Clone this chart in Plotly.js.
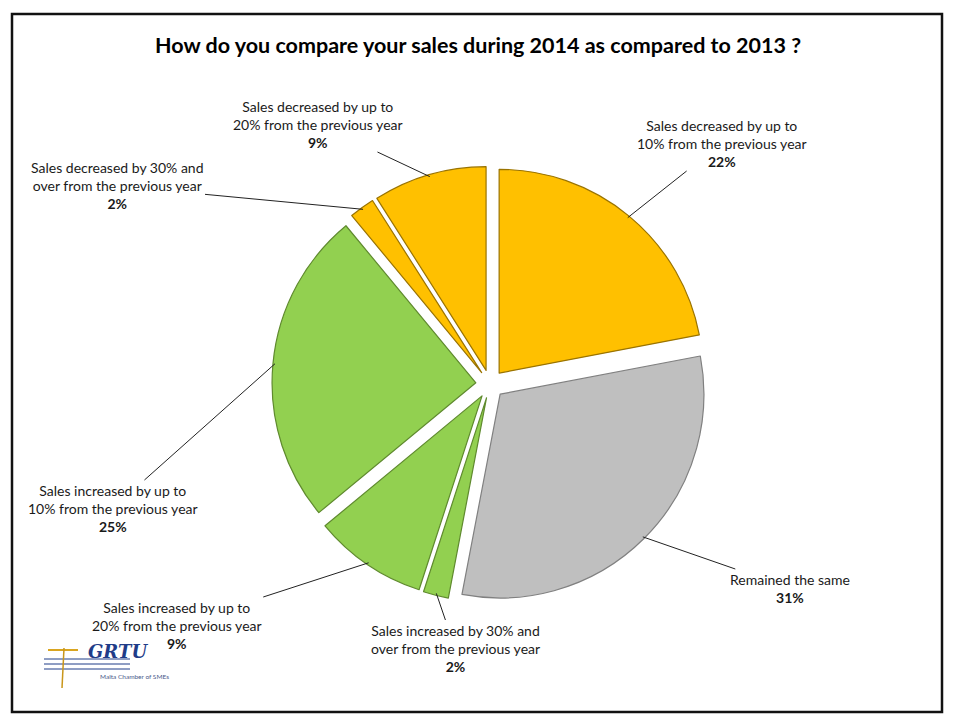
<!DOCTYPE html>
<html>
<head>
<meta charset="utf-8">
<script src="https://cdn.plot.ly/plotly-3.0.1.min.js"></script>
<style>html,body{margin:0;padding:0;background:#fff;}#chart{width:959px;height:722px;}</style>
</head>
<body>
<div id="chart"></div>
<script>
// ---- data ----
var categories = [
  "Sales decreased by up to<br>10% from the previous year",
  "Remained the same",
  "Sales increased by 30% and<br>over from the previous year",
  "Sales increased by up to<br>20% from the previous year",
  "Sales increased by up to<br>10% from the previous year",
  "Sales decreased by 30% and<br>over from the previous year",
  "Sales decreased by up to<br>20% from the previous year"
];
var shares = [22, 31, 2, 9, 25, 2, 9];
var sliceColors = ["#FFC000", "#BFBFBF", "#92D050", "#92D050", "#92D050", "#FFC000", "#FFC000"];
var edgeColors = ["#9A7300", "#808080", "#5F8A2E", "#5F8A2E", "#5F8A2E", "#9A7300", "#9A7300"];
var titleText = "<b>How do you compare your sales during 2014 as compared to 2013 ?</b>";

// ---- layout constants ----
var W = 959, H = 722;
var pull = 0.07;
var dom = {x: [0.282, 0.740], y: [0.166, 0.770]};
// label text centres (pixels)
var labelPos = [[722, 143], [790, 588], [455, 648], [177, 625], [113, 508], [117, 186], [318, 124]];

// pie geometry (as Plotly computes it)
var boxW = W * (dom.x[1] - dom.x[0]), boxH = H * (dom.y[1] - dom.y[0]);
var r = Math.min(boxW, boxH) / (2 + 2 * pull);
var cx = W * (dom.x[0] + dom.x[1]) / 2;
var cy = H * (1 - (dom.y[0] + dom.y[1]) / 2);
var total = shares.reduce(function (a, b) { return a + b; }, 0);

var annotations = [];
var cum = 0;
for (var i = 0; i < shares.length; i++) {
  var mid = (cum + shares[i] / 2) / total * 2 * Math.PI;
  cum += shares[i];
  var rr = r * (1 + pull) - 2;
  var hx = cx + rr * Math.sin(mid);
  var hy = cy - rr * Math.cos(mid);
  annotations.push({
    xref: "paper", yref: "paper",
    x: hx / W, y: 1 - hy / H,
    ax: labelPos[i][0] - hx, ay: labelPos[i][1] - hy,
    axref: "pixel", ayref: "pixel",
    text: categories[i] + "<br><b>" + shares[i] + "%</b>",
    showarrow: true, arrowhead: 0, arrowwidth: 1, arrowcolor: "#222",
    standoff: 0, startstandoff: 0,
    font: {family: "Lato, 'Open Sans', sans-serif", size: 14, color: "#1a1a1a"},
    align: "center"
  });
}
// logo
annotations.push({
  xref: "paper", yref: "paper", x: 86 / W, y: 1 - 664 / H,
  text: "<b><i>GRTU</i></b>", showarrow: false,
  font: {family: "'DejaVu Serif', serif", size: 18, color: "#1F3C88"}
});
annotations.push({
  xref: "paper", yref: "paper", x: 98 / W, y: 1 - 682 / H,
  text: "Malta Chamber of SMEs", showarrow: false,
  font: {family: "Lato, sans-serif", size: 6.5, color: "#4a5a8a"}
});

var trace = {
  type: "pie",
  labels: categories,
  values: shares,
  sort: false,
  direction: "clockwise",
  rotation: 0,
  pull: shares.map(function () { return pull; }),
  marker: {colors: sliceColors, line: {color: edgeColors, width: 1.2}},
  textinfo: "none",
  hoverinfo: "label+percent",
  showlegend: false,
  domain: dom
};

var layout = {
  width: W, height: H,
  margin: {l: 0, r: 0, t: 0, b: 0},
  paper_bgcolor: "#ffffff",
  showlegend: false,
  title: {
    text: titleText,
    x: 0.4985, xanchor: "center",
    y: 1 - 45 / H, yanchor: "middle",
    font: {family: "Lato, 'Open Sans', sans-serif", size: 21.5, color: "#000"}
  },
  annotations: annotations,
  shapes: [
    {type: "rect", xref: "paper", yref: "paper",
     x0: 12 / W, x1: 942 / W, y0: 1 - 712 / H, y1: 1 - 14 / H,
     line: {color: "#111", width: 2.5}, fillcolor: "rgba(0,0,0,0)"},
    // logo stripes
    {type: "line", xref: "paper", yref: "paper", layer: "below", x0: 44 / W, x1: 130 / W, y0: 1 - 659 / H, y1: 1 - 659 / H, line: {color: "#1F3C88", width: 1}},
    {type: "line", xref: "paper", yref: "paper", layer: "below", x0: 44 / W, x1: 130 / W, y0: 1 - 664 / H, y1: 1 - 664 / H, line: {color: "#1F3C88", width: 1}},
    {type: "line", xref: "paper", yref: "paper", layer: "below", x0: 44 / W, x1: 130 / W, y0: 1 - 669 / H, y1: 1 - 669 / H, line: {color: "#1F3C88", width: 1}},
    {type: "line", xref: "paper", yref: "paper", x0: 48 / W, x1: 78 / W, y0: 1 - 650 / H, y1: 1 - 650 / H, line: {color: "#D9A520", width: 2}},
    {type: "line", xref: "paper", yref: "paper", x0: 64 / W, x1: 62 / W, y0: 1 - 648 / H, y1: 1 - 688 / H, line: {color: "#C9961A", width: 1.5}}
  ]
};

Plotly.newPlot("chart", [trace], layout, {displayModeBar: false, staticPlot: true});
</script>
</body>
</html>
